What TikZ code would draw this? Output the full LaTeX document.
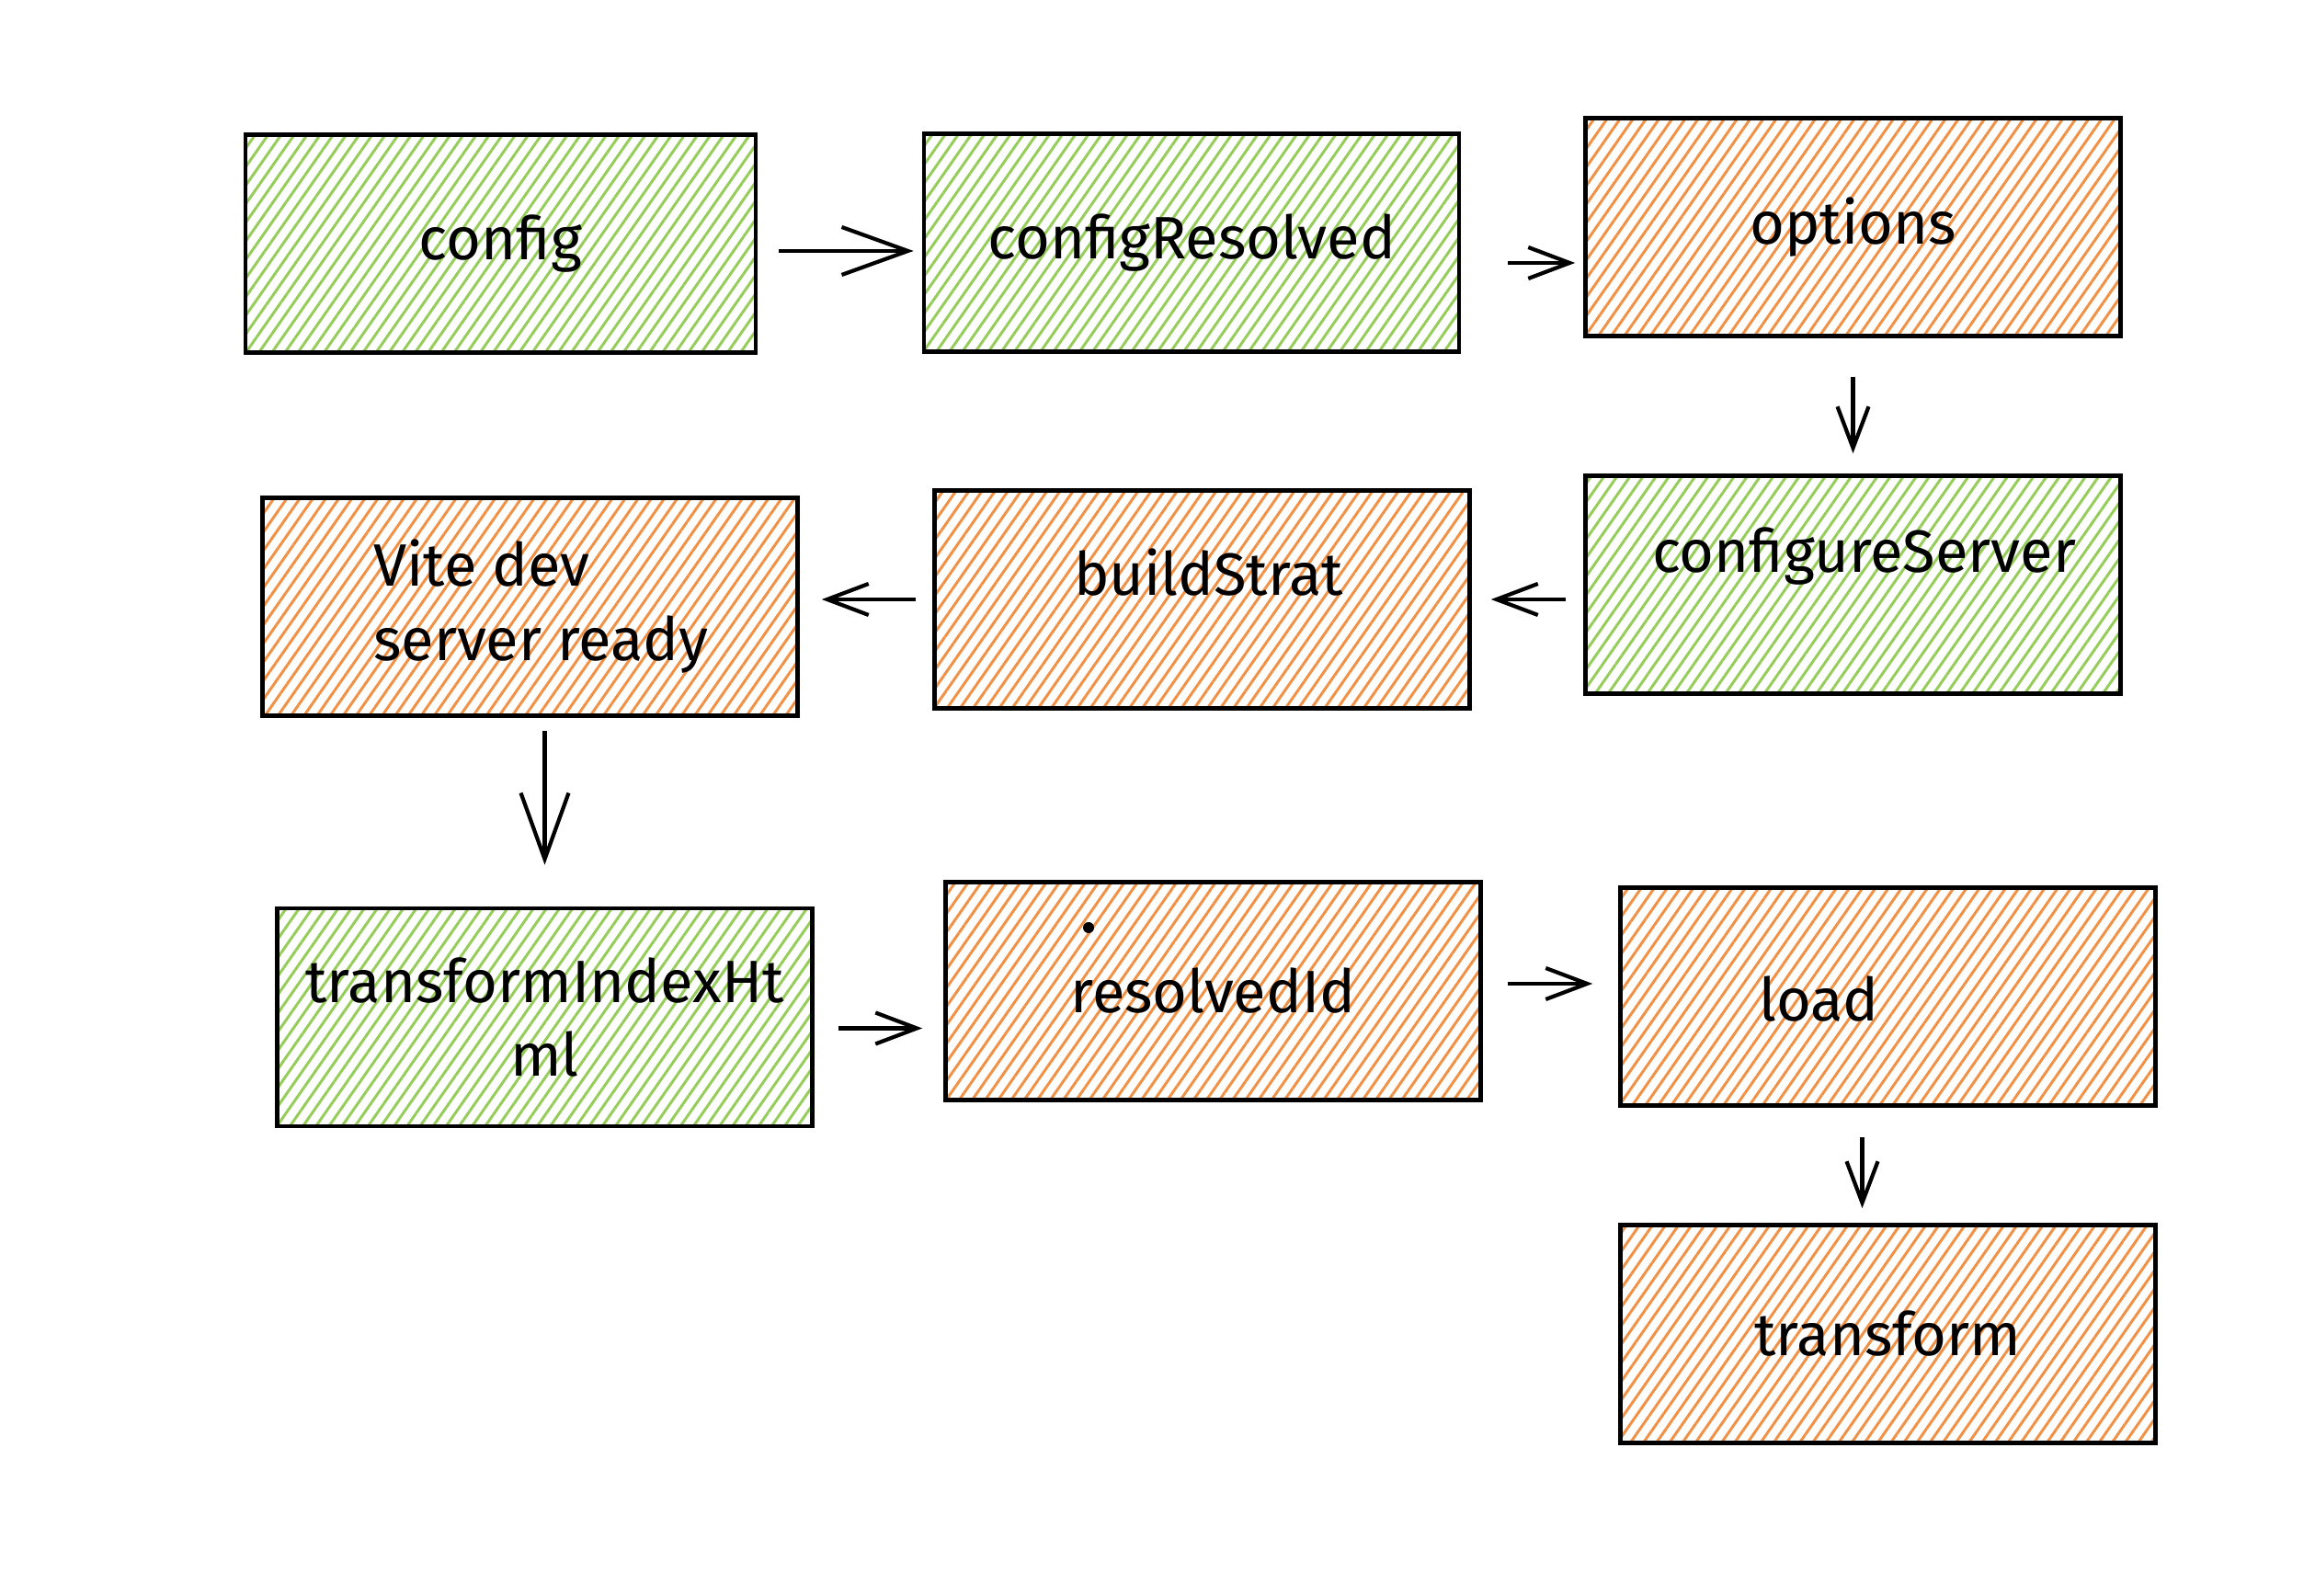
\documentclass[tikz,border=0pt]{standalone}
\usepackage{fontspec}
\setmainfont{Fira Sans}
\usetikzlibrary{arrows.meta,patterns.meta}

\definecolor{hgreen}{RGB}{150,205,90}
\definecolor{horange}{RGB}{240,145,70}
\newcommand{\boxfont}{\fontsize{18.5}{23}\selectfont}

\tikzset{
    hatch/.style={draw=black, line width=1.3pt, minimum width=5.82cm, minimum height=2.37cm,
        pattern={Lines[angle=55,distance=3.3pt,line width=0.85pt]}, pattern color=#1, font=\boxfont},
    lbl/.style={font=\boxfont, align=left},
    flow/.style={line width=1.2pt, -{Straight Barb[length=0.45cm,width=0.34cm]}},
    bigflow/.style={line width=1.2pt, -{Straight Barb[length=0.72cm,width=0.52cm]}}
}

\begin{document}
\begin{tikzpicture}
        \useasboundingbox (0,0) rectangle (25.18,17.36);
        % first row
        \node[hatch=hgreen, minimum width=5.55cm] (config) at (5.445,14.71) {config};
        \node[hatch=hgreen] (cresolved) at (12.96,14.72) {configResolved};
        \node[hatch=horange] (options) at (20.155,14.89) {options};
        % second row
        \node[hatch=hgreen, label={[lbl, shift={(0.12,0.31)}]center:configureServer}] (cserver) at (20.155,11.00) {};
        \node[hatch=horange, label={[lbl, shift={(0.07,0.29)}]center:buildStrat}] (buildstrat) at (13.075,10.84) {};
        \node[hatch=horange, label={[lbl, shift={(0.12,0)}]center:Vite dev\\server ready}] (vite) at (5.765,10.76) {};
        % third row
        \node[hatch=hgreen, align=center] (tih) at (5.925,6.295) {transformIndexHt\\ml};
        \node[hatch=horange] (resolved) at (13.195,6.58) {resolvedId};
        \fill (resolved.center) ++(-1.355,0.69) circle (0.06);
        \node[hatch=horange, label={[lbl, shift={(-0.75,-0.03)}]center:load}] (load) at (20.535,6.52) {};
        \node[hatch=horange] (transform) at (20.535,2.85) {transform};
        % connectors
        \draw[bigflow, shorten <=0.23cm, shorten >=0.09cm] ([yshift=-0.08cm]config.east) -- ([yshift=-0.08cm]config.east -| cresolved.west);
        \draw[flow, shorten <=0.51cm, shorten >=0.09cm] ([yshift=-0.22cm]cresolved.east) -- ([yshift=-0.22cm]cresolved.east -| options.west);
        \draw[flow, shorten <=0.42cm, shorten >=0.22cm] (options) -- (cserver);
        \draw[flow, shorten <=0.19cm, shorten >=0.21cm] (cserver.west |- buildstrat.east) -- (buildstrat.east);
        \draw[flow, shorten <=0.18cm, shorten >=0.24cm] (buildstrat.west) -- (buildstrat.west -| vite.east);
        \draw[bigflow, shorten <=0.14cm, shorten >=0.45cm] (tih.north |- vite.south) -- (tih.north);
        \draw[flow, shorten <=0.26cm, shorten >=0.23cm] ([yshift=-0.12cm]tih.east) -- ([yshift=-0.12cm]tih.east -| resolved.west);
        \draw[flow, shorten <=0.27cm, shorten >=0.28cm] ([yshift=0.08cm]resolved.east) -- ([yshift=0.08cm]resolved.east -| load.west);
        \draw[flow, shorten <=0.32cm, shorten >=0.16cm] ([xshift=-0.28cm]load.south) -- ([xshift=-0.28cm]transform.north);
\end{tikzpicture}
\end{document}
